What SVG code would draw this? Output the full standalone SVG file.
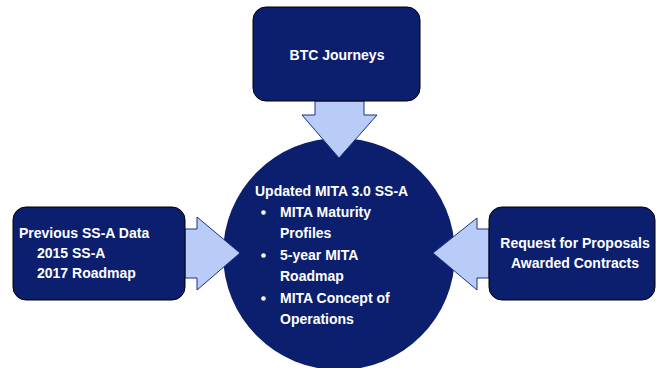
<svg xmlns="http://www.w3.org/2000/svg" width="658" height="368" viewBox="0 0 658 368">
  <style>
    .box { fill: #0c1f6e; stroke: #000000; stroke-width: 1; }
    .hub { fill: #0c1f6e; }
    .arrow { fill: #b8ccf7; stroke: #1c2f86; stroke-width: 1; stroke-linejoin: miter; }
    .t { font-family: "Liberation Sans", Arial, sans-serif; font-weight: bold; font-size: 14px; fill: #ffffff; }
    .mid { text-anchor: middle; }
  </style>
  <rect width="658" height="368" fill="#ffffff"/>

  <!-- central hub -->
  <g id="hub">
    <ellipse class="hub" cx="339" cy="254" rx="116" ry="116"/>
    <text class="t" x="255" y="196">Updated MITA 3.0 SS-A</text>
    <circle cx="263.5" cy="212.5" r="2.3" fill="#ffffff"/>
    <text class="t" x="280" y="217">MITA Maturity</text>
    <text class="t" x="280" y="238">Profiles</text>
    <circle cx="263.5" cy="255.5" r="2.3" fill="#ffffff"/>
    <text class="t" x="280" y="260">5-year MITA</text>
    <text class="t" x="280" y="281">Roadmap</text>
    <circle cx="263.5" cy="298.5" r="2.3" fill="#ffffff"/>
    <text class="t" x="280" y="303">MITA Concept of</text>
    <text class="t" x="280" y="324">Operations</text>
  </g>

  <!-- block arrows feeding the hub -->
  <g id="connectors">
    <polygon class="arrow" points="315,101 364,101 364,115 377,115 339,158 302,115 315,115"/>
    <polygon class="arrow" points="185,229 197,229 197,217 240,253 197,290 197,278 185,278"/>
    <polygon class="arrow" points="489,229 477,229 477,218 433,253 477,290 477,278 489,278"/>
  </g>

  <g id="btc-journeys">
    <rect class="box" x="253" y="7" width="167" height="94" rx="13" ry="13"/>
    <text class="t mid" x="337" y="60">BTC Journeys</text>
  </g>

  <g id="previous-data">
    <rect class="box" x="13" y="207" width="172" height="93" rx="13" ry="13"/>
    <text class="t" x="19" y="238">Previous SS-A Data</text>
    <text class="t" x="37" y="258">2015 SS-A</text>
    <text class="t" x="37" y="278">2017 Roadmap</text>
  </g>

  <g id="rfp">
    <rect class="box" x="489" y="207" width="166" height="93" rx="13" ry="13"/>
    <text class="t mid" x="575" y="248">Request for Proposals</text>
    <text class="t mid" x="575" y="268">Awarded Contracts</text>
  </g>
</svg>
